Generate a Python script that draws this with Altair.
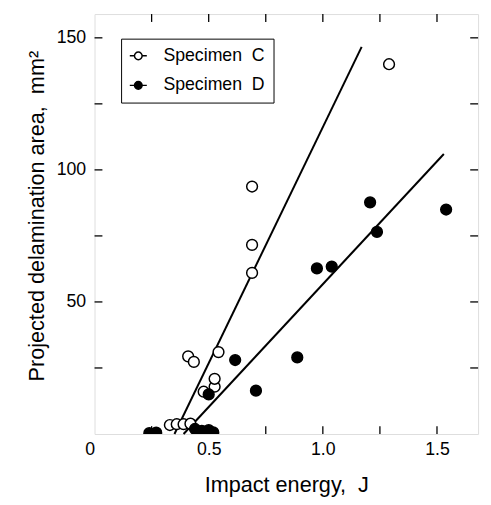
import altair as alt
import pandas as pd

# ---- data ----
c_x = [0.33, 0.36, 0.39, 0.42, 0.41, 0.435, 0.478, 0.526, 0.526, 0.543, 0.69, 0.69, 0.69, 1.29]
c_y = [3.4, 3.7, 3.7, 3.9, 29.4, 27.3, 16.0, 17.9, 20.9, 31.0, 61.0, 71.6, 93.7, 140.0]
d_x = [0.24, 0.27, 0.44, 0.47, 0.50, 0.52, 0.50, 0.616, 0.707, 0.888, 0.974, 1.039, 1.207, 1.237, 1.54]
d_y = [0.3, 0.5, 1.9, 1.2, 1.5, 0.6, 15.0, 28.0, 16.4, 29.0, 62.7, 63.4, 87.7, 76.5, 85.0]
fitc_x = [0.35, 1.17]
fitc_y = [0.0, 146.6]
fitd_x = [0.39, 1.53]
fitd_y = [0.0, 106.0]
series = ["Specimen\u00a0 C", "Specimen\u00a0 D"]
x_tick_vals = [0.25, 0.5, 0.75, 1.0, 1.25, 1.5]
x_label_vals = [0, 0.5, 1.0, 1.5]
y_tick_vals = [25, 50, 75, 100, 125, 150]
y_label_vals = [50, 100, 150]
x_title = "Impact energy,\u00a0 J"
y_title = "Projected delamination area,\u00a0 mm\u00b2"

W, H = 390, 427
XMAX, YMAX = 1.68, 159.0
TICK = 8
FONT = "Liberation Sans"

pts = pd.DataFrame({
    "x": c_x + d_x,
    "y": c_y + d_y,
    "s": [series[0]] * len(c_x) + [series[1]] * len(d_x),
})
lc = pd.DataFrame({"x": fitc_x, "y": fitc_y})
ld = pd.DataFrame({"x": fitd_x, "y": fitd_y})
xt = pd.DataFrame({"x": x_tick_vals})
yt = pd.DataFrame({"y": y_tick_vals})

xs = alt.Scale(domain=[0, XMAX], nice=False, zero=False)
ys = alt.Scale(domain=[0, YMAX], nice=False, zero=False)

ax_x_main = alt.Axis(orient="bottom", values=x_label_vals, ticks=False, tickSize=0, domain=False,
                     grid=False, labelFontSize=18, labelPadding=7, labelColor="black", labelFont=FONT,
                     labelExpr="datum.value == 0 ? '0' : format(datum.value, '.1f')",
                     labelAlign={"condition": {"test": "datum.value == 0", "value": "right"}, "value": "center"},
                     title=x_title, titleFontSize=22, titleFontWeight="normal", titleFont=FONT,
                     titleColor="black", titleBaseline="alphabetic", titleAlign="center",
                     titleX=W / 2, titleY=58)
ax_y_main = alt.Axis(orient="left", values=y_label_vals, ticks=False, tickSize=0, domain=False,
                     grid=False, labelFontSize=18, labelPadding=9, labelColor="black", labelFont=FONT,
                     title=y_title, titleFontSize=22, titleFontWeight="normal", titleFont=FONT,
                     titleColor="black", titleAngle=270, titleBaseline="alphabetic",
                     titleAlign="center", titleX=-52, titleY=205)

X = alt.X("x:Q", scale=xs, axis=ax_x_main)
Y = alt.Y("y:Q", scale=ys, axis=ax_y_main)

rule_style = dict(color="black", strokeWidth=1.3)
ticks_bottom = alt.Chart(xt).mark_rule(**rule_style).encode(x=X, y=alt.value(H), y2=alt.value(H - TICK))
ticks_top = alt.Chart(xt).mark_rule(**rule_style).encode(x=X, y=alt.value(0), y2=alt.value(TICK))
ticks_left = alt.Chart(yt).mark_rule(**rule_style).encode(y=Y, x=alt.value(0), x2=alt.value(TICK))
ticks_right = alt.Chart(yt).mark_rule(**rule_style).encode(y=Y, x=alt.value(W), x2=alt.value(W - TICK))

line_c = alt.Chart(lc).mark_line(color="black", strokeWidth=2).encode(x=X, y=Y)
line_d = alt.Chart(ld).mark_line(color="black", strokeWidth=2).encode(x=X, y=Y)

legend_path = "M-1,0H-0.45M0.45,0H1M-0.45,0A0.45,0.45,0,1,1,0.45,0A0.45,0.45,0,1,1,-0.45,0Z"

points = alt.Chart(pts).mark_point(filled=True, shape="circle", size=120, stroke="black",
                                   strokeWidth=1.5, opacity=1, clip=True).encode(
    x=X,
    y=Y,
    fill=alt.Fill("s:N", scale=alt.Scale(domain=series, range=["white", "black"]),
                  legend=alt.Legend(orient="none", legendX=27, legendY=25, title=None,
                                    symbolType=legend_path, symbolSize=300,
                                    symbolStrokeColor="black", symbolStrokeWidth=1.5,
                                    labelFontSize=18, labelFont=FONT, labelColor="black",
                                    labelOffset=16, padding=8, rowPadding=11,
                                    strokeColor="black", fillColor="white")),
)

chart = alt.layer(ticks_bottom, ticks_top, ticks_left, ticks_right, line_c, line_d, points).properties(
    width=W, height=H,
    autosize=alt.AutoSizeParams(type="none"),
    padding={"left": 88, "top": 2, "right": 5, "bottom": 66},
    background="white",
).configure_view(stroke="black", strokeWidth=1.5).configure(font=FONT)

chart.save("out.html", embed_options={"renderer": "svg", "actions": False})
